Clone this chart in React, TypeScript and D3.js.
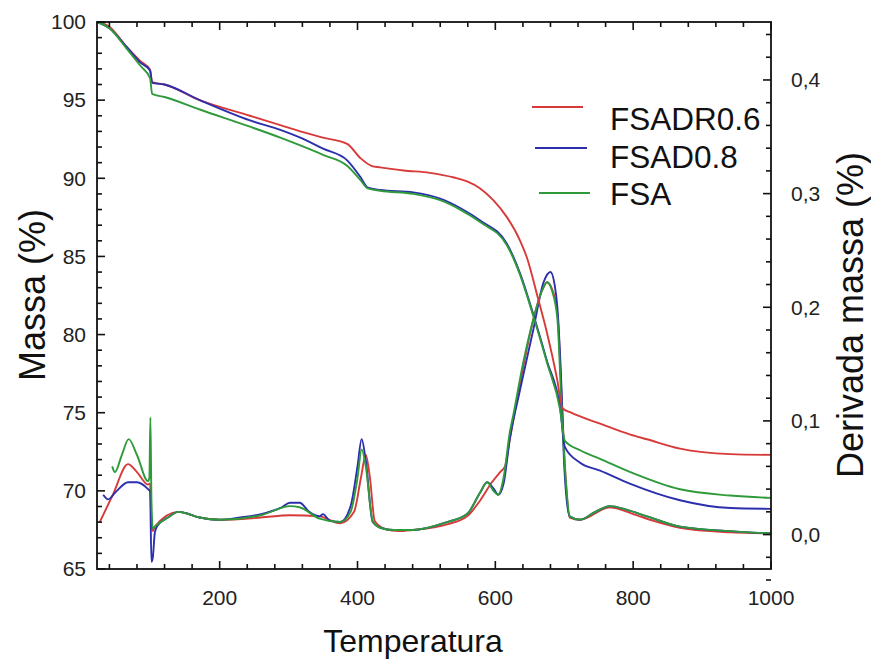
import React from "react";
import * as d3 from "d3";

// ---------- data ----------
const seriesNames = ["FSADR0.6", "FSAD0.8", "FSA"];
const seriesColors = ["#d83a3a", "#2b2fae", "#2f9a3a"];

// Mass (%) curves: [temperature, mass]
const massRed: [number, number][] = [
  [22, 100], [40, 99.7], [65, 98.4], [85, 97.5], [99, 96.95], [102, 96.15], [120, 96.0], [171, 95.0],
  [244, 94.0], [288, 93.4], [317, 93.0], [350, 92.6], [385, 92.2], [404, 91.3], [420, 90.8], [433, 90.7],
  [467, 90.5], [505, 90.35], [540, 90.05], [559, 89.8], [578, 89.35], [597, 88.6], [617, 87.5], [636, 86.0],
  [646, 84.9], [662, 82.3], [675, 80.1], [690, 77.05], [697, 75.3], [710, 75.0], [752, 74.3], [796, 73.6],
  [820, 73.3], [868, 72.7], [941, 72.35], [1000, 72.3],
];
const massBlue: [number, number][] = [
  [22, 100], [40, 99.6], [65, 98.4], [85, 97.4], [99, 96.9], [102, 96.1], [120, 96.0], [171, 95.0],
  [244, 93.7], [288, 93.1], [317, 92.6], [350, 91.9], [385, 91.15], [404, 90.1], [415, 89.4], [433, 89.25],
  [481, 89.1], [520, 88.7], [549, 88.1], [578, 87.3], [617, 85.8], [636, 83.9], [655, 81.3], [675, 78.3],
  [694, 75.3], [701, 72.8], [723, 71.8], [752, 71.3], [796, 70.45], [868, 69.4], [941, 68.9], [1000, 68.85],
];
const massGreen: [number, number][] = [
  [22, 100], [40, 99.6], [65, 98.3], [85, 97.2], [99, 96.4], [102, 95.4], [120, 95.2], [171, 94.4],
  [244, 93.3], [288, 92.6], [317, 92.1], [350, 91.5], [385, 90.8], [404, 89.9], [415, 89.35], [433, 89.2],
  [481, 89.0], [520, 88.6], [549, 88.0], [578, 87.2], [617, 85.7], [636, 83.8], [655, 81.2], [675, 78.2],
  [694, 75.2], [701, 73.2], [723, 72.6], [752, 72.05], [796, 71.2], [868, 70.1], [941, 69.7], [1000, 69.55],
];

// Derivative curves: [temperature, derivative]
const derivRed: [number, number][] = [
  [26, 0.011], [45, 0.035], [67, 0.062], [80, 0.055], [96, 0.044], [99, 0.045], [101, 0.01], [103, 0.003],
  [106, 0.007], [140, 0.020], [171, 0.015], [200, 0.013], [260, 0.015], [302, 0.017], [345, 0.016],
  [375, 0.010], [395, 0.02], [405, 0.05], [412, 0.070], [418, 0.05], [425, 0.012], [440, 0.005],
  [460, 0.003], [480, 0.004], [530, 0.009], [559, 0.016], [578, 0.030], [595, 0.046], [607, 0.055],
  [614, 0.060], [621, 0.084], [635, 0.13], [655, 0.189], [668, 0.215], [675, 0.222], [683, 0.215],
  [690, 0.195], [697, 0.11], [702, 0.05], [708, 0.015], [723, 0.013], [766, 0.024], [800, 0.018],
  [830, 0.012], [868, 0.006], [941, 0.002], [1000, 0.001],
];
const derivBlue: [number, number][] = [
  [31, 0.035], [38, 0.031], [50, 0.038], [67, 0.046], [80, 0.046], [96, 0.040], [99, 0.038], [101, -0.024],
  [103, -0.02], [106, 0.002], [110, 0.008], [125, 0.015], [140, 0.020], [150, 0.019], [171, 0.015],
  [200, 0.013], [230, 0.015], [260, 0.018], [290, 0.024], [302, 0.028], [316, 0.028], [330, 0.020],
  [345, 0.016], [350, 0.018], [360, 0.012], [375, 0.011], [390, 0.025], [400, 0.060], [406, 0.084],
  [412, 0.065], [422, 0.011], [433, 0.006], [452, 0.004], [480, 0.004], [530, 0.011], [559, 0.018],
  [578, 0.037], [588, 0.046], [598, 0.040], [604, 0.035], [612, 0.045], [621, 0.084], [635, 0.125],
  [655, 0.180], [670, 0.222], [680, 0.231], [686, 0.220], [690, 0.200], [697, 0.113], [700, 0.060],
  [708, 0.016], [723, 0.013], [745, 0.020], [766, 0.025], [790, 0.022], [820, 0.016], [868, 0.007],
  [941, 0.003], [1000, 0.001],
];
const derivGreen: [number, number][] = [
  [44, 0.060], [48, 0.055], [58, 0.070], [68, 0.084], [80, 0.070], [96, 0.047], [98, 0.05], [99.5, 0.103],
  [101, 0.03], [103, 0.005], [106, 0.007], [125, 0.015], [140, 0.020], [171, 0.015], [200, 0.013],
  [260, 0.017], [302, 0.025], [316, 0.024], [345, 0.014], [375, 0.011], [390, 0.02], [400, 0.05],
  [406, 0.075], [412, 0.06], [422, 0.012], [433, 0.006], [452, 0.004], [480, 0.004], [530, 0.011],
  [559, 0.018], [578, 0.037], [588, 0.046], [598, 0.038], [604, 0.035], [612, 0.05], [621, 0.09],
  [626, 0.105], [640, 0.150], [655, 0.189], [668, 0.215], [675, 0.222], [682, 0.215], [690, 0.190],
  [697, 0.100], [702, 0.05], [708, 0.016], [723, 0.013], [745, 0.020], [766, 0.025], [790, 0.022],
  [820, 0.016], [868, 0.007], [941, 0.003], [1000, 0.001],
];

const xMajorTicks = [200, 400, 600, 800, 1000];
const massMajorTicks = [65, 70, 75, 80, 85, 90, 95, 100];
const derivMajorTicks = [0, 0.1, 0.2, 0.3, 0.4];

// ---------- layout ----------
const W = 871;
const H = 662;
const L = 97, R = 771, T = 22, B = 569;
const FONT = "'Liberation Sans', Arial, sans-serif";

export default function App() {
  const x = d3.scaleLinear().domain([22, 1000]).range([L, R]);
  const yM = d3.scaleLinear().domain([65, 100]).range([B, T]);
  const yD = d3.scaleLinear().domain([-0.0303, 0.451]).range([B, T]);

  const lineM = d3.line<[number, number]>().x((d) => x(d[0])).y((d) => yM(d[1])).curve(d3.curveMonotoneX);
  const lineD = d3.line<[number, number]>().x((d) => x(d[0])).y((d) => yD(d[1])).curve(d3.curveMonotoneX);

  const massSeries = [massRed, massBlue, massGreen];
  const derivSeries = [derivRed, derivBlue, derivGreen];

  const xMinor = d3.range(40, 1001, 40).filter((v) => !xMajorTicks.includes(v));
  const mMinor = d3.range(66, 100, 1).filter((v) => v % 5 !== 0);
  const dMinor = d3.range(-2, 23, 1).map((v) => v * 0.02).filter((v) => Math.abs(Math.round(v * 10) - v * 10) > 1e-6);

  const legend = [
    { x1: 532, x2: 583, ly: 107, ty: 130 },
    { x1: 535, x2: 587, ly: 148, ty: 168 },
    { x1: 539, x2: 590, ly: 193, ty: 205 },
  ];

  return (
    <svg width={W} height={H} style={{ position: "absolute", left: 0, top: 0, background: "#fff" }} fontFamily={FONT}>
      <rect x={0} y={0} width={W} height={H} fill="#fff" />
      {/* curves */}
      <g fill="none" strokeWidth={1.9} strokeLinejoin="round">
        {derivSeries.map((s, i) => (
          <path key={"d" + i} d={lineD(s) || ""} stroke={seriesColors[i]} />
        ))}
        {massSeries.map((s, i) => (
          <path key={"m" + i} d={lineM(s) || ""} stroke={seriesColors[i]} />
        ))}
      </g>

      {/* frame */}
      <rect x={L} y={T} width={R - L} height={B - T} fill="none" stroke="#111" strokeWidth={1.8} />

      {/* ticks */}
      <g stroke="#111" strokeWidth={1.6}>
        {xMajorTicks.map((v) => (
          <g key={"xM" + v}>
            <line x1={x(v)} x2={x(v)} y1={B} y2={B - 8} />
            <line x1={x(v)} x2={x(v)} y1={T} y2={T + 8} />
          </g>
        ))}
        {xMinor.map((v) => (
          <g key={"xm" + v}>
            <line x1={x(v)} x2={x(v)} y1={B} y2={B - 5} />
            <line x1={x(v)} x2={x(v)} y1={T} y2={T + 5} />
          </g>
        ))}
        {massMajorTicks.map((v) => (
          <line key={"mM" + v} x1={L} x2={L + 8} y1={yM(v)} y2={yM(v)} />
        ))}
        {mMinor.map((v) => (
          <line key={"mm" + v} x1={L} x2={L + 5} y1={yM(v)} y2={yM(v)} />
        ))}
        {derivMajorTicks.map((v) => (
          <line key={"dM" + v} x1={R} x2={R - 8} y1={yD(v)} y2={yD(v)} />
        ))}
        {dMinor.map((v) => (
          <line key={"dm" + v} x1={R} x2={R - 5} y1={yD(v)} y2={yD(v)} />
        ))}
      </g>

      {/* tick labels */}
      <g fontSize={21} fill="#222">
        {xMajorTicks.map((v) => (
          <text key={"xl" + v} x={x(v)} y={605} textAnchor="middle">{v}</text>
        ))}
        {massMajorTicks.map((v) => (
          <text key={"ml" + v} x={86} y={yM(v)} dy="0.35em" textAnchor="end">{v}</text>
        ))}
        {derivMajorTicks.map((v) => (
          <text key={"dl" + v} x={791} y={yD(v)} dy="0.35em" textAnchor="start">{d3.format(".1f")(v).replace(".", ",")}</text>
        ))}
      </g>

      {/* axis titles */}
      <g fill="#111">
        <text x={413} y={652} fontSize={32} textAnchor="middle">Temperatura</text>
        <text transform={`translate(45,295) rotate(-90)`} fontSize={36} textAnchor="middle">Massa (%)</text>
        <text transform={`translate(863,315) rotate(-90)`} fontSize={36} textAnchor="middle">Derivada massa (%)</text>
      </g>

      {/* legend */}
      <g>
        {legend.map((l, i) => (
          <g key={"lg" + i}>
            <line x1={l.x1} x2={l.x2} y1={l.ly} y2={l.ly} stroke={seriesColors[i]} strokeWidth={2} />
            <text x={610} y={l.ty} fontSize={31.5} fill="#111">{seriesNames[i]}</text>
          </g>
        ))}
      </g>
    </svg>
  );
}
